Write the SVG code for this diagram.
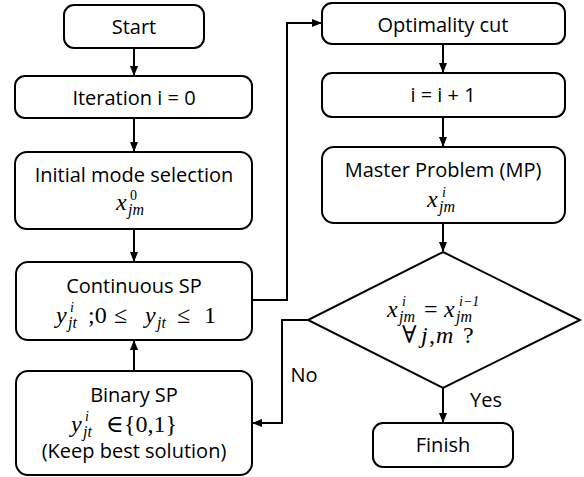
<svg xmlns="http://www.w3.org/2000/svg" width="584" height="477" viewBox="0 0 584 477">
<defs>
<marker id="ah" markerWidth="10" markerHeight="10" refX="9" refY="5" orient="auto" markerUnits="userSpaceOnUse">
<path d="M0,1 L10,5 L0,9 z" fill="#000"/>
</marker>
<style>
.box{fill:#fff;stroke:#000;stroke-width:2}
.t{font-family:"Open Sans","Noto Sans",sans-serif;font-size:20px;text-anchor:middle;fill:#000}
.m{font-family:"Liberation Serif","DejaVu Serif",serif;font-size:24px;fill:#000}
.i{font-style:italic}
.s{font-size:16px}
.p{font-size:14px}
.c{fill:none;stroke:#000;stroke-width:2}
</style>
</defs>
<rect width="584" height="477" fill="#fff"/>
<g id="connectors">
<line class="c" x1="134" y1="48" x2="134" y2="75" marker-end="url(#ah)"/>
<line class="c" x1="134" y1="118" x2="134" y2="151" marker-end="url(#ah)"/>
<line class="c" x1="134" y1="229" x2="134" y2="261" marker-end="url(#ah)"/>
<line class="c" x1="134" y1="371" x2="134" y2="341" marker-end="url(#ah)"/>
<polyline class="c" points="252,300 287,300 287,23 321,23" marker-end="url(#ah)"/>
<line class="c" x1="443" y1="44" x2="443" y2="72" marker-end="url(#ah)"/>
<line class="c" x1="443" y1="117" x2="443" y2="146" marker-end="url(#ah)"/>
<line class="c" x1="443" y1="223" x2="443" y2="251" marker-end="url(#ah)"/>
<polyline class="c" points="308,320 282,320 282,423 253,423" marker-end="url(#ah)"/>
<line class="c" x1="443" y1="388" x2="443" y2="422" marker-end="url(#ah)"/>
<text class="t" x="304" y="382">No</text>
<text class="t" x="486" y="407">Yes</text>
</g>
<g id="start">
<rect class="box" x="64" y="5" width="140" height="43" rx="10"/>
<text class="t" x="134" y="34">Start</text>
</g>
<g id="iteration">
<rect class="box" x="15" y="76" width="237" height="42" rx="10"/>
<text class="t" x="134" y="105">Iteration i = 0</text>
</g>
<g id="initial">
<rect class="box" x="15" y="152" width="237" height="77" rx="12"/>
<text class="t" x="134" y="182">Initial mode selection</text>
<text class="m"><tspan class="i" x="116" y="210">x</tspan><tspan class="p" x="130" y="200">0</tspan><tspan class="i s" x="128" y="215">jm</tspan></text>
</g>
<g id="continuous">
<rect class="box" x="16" y="262" width="236" height="78" rx="12"/>
<text class="t" x="134" y="293">Continuous SP</text>
<text class="m"><tspan class="i" x="56" y="323">y</tspan><tspan class="i p" x="70" y="312">i</tspan><tspan class="i s" x="68" y="328">jt</tspan><tspan x="88" y="323">;0</tspan><tspan x="114" y="323">≤</tspan><tspan class="i" x="145" y="323">y</tspan><tspan class="i s" x="157" y="328">jt</tspan><tspan x="177" y="323">≤</tspan><tspan x="204" y="323">1</tspan></text>
</g>
<g id="binary">
<rect class="box" x="16" y="371" width="236" height="104" rx="12"/>
<text class="t" x="134" y="402">Binary SP</text>
<text class="m"><tspan class="i" x="71" y="432">y</tspan><tspan class="i p" x="85" y="421">i</tspan><tspan class="i s" x="83" y="437">jt</tspan><tspan x="106" y="432">∈</tspan><tspan x="124" y="432">{0,1}</tspan></text>
<text class="t" x="134" y="458">(Keep best solution)</text>
</g>
<g id="optimality">
<rect class="box" x="322" y="3" width="243" height="41" rx="10"/>
<text class="t" x="443" y="32">Optimality cut</text>
</g>
<g id="increment">
<rect class="box" x="322" y="73" width="243" height="44" rx="10"/>
<text class="t" x="443" y="102">i = i + 1</text>
</g>
<g id="master">
<rect class="box" x="322" y="147" width="243" height="76" rx="12"/>
<text class="t" x="443" y="177">Master Problem (MP)</text>
<text class="m"><tspan class="i" x="427" y="207">x</tspan><tspan class="i p" x="442" y="197">i</tspan><tspan class="i s" x="439" y="212">jm</tspan></text>
</g>
<g id="decision">
<polygon class="box" points="443,252 580,320 443,388 308,320"/>
<text class="m"><tspan class="i" x="387" y="317">x</tspan><tspan class="i p" x="402" y="306">i</tspan><tspan class="i s" x="399" y="322">jm</tspan><tspan x="424" y="317">=</tspan><tspan class="i" x="444" y="317">x</tspan><tspan class="i p" x="459" y="306">i−1</tspan><tspan class="i s" x="456" y="322">jm</tspan></text>
<text class="m"><tspan x="402" y="343">∀</tspan><tspan class="i" x="421" y="343">j</tspan><tspan x="429" y="343">,</tspan><tspan class="i" x="436" y="343">m</tspan><tspan x="463" y="343">?</tspan></text>
</g>
<g id="finish">
<rect class="box" x="373" y="423" width="140" height="44" rx="10"/>
<text class="t" x="443" y="452">Finish</text>
</g>
</svg>
